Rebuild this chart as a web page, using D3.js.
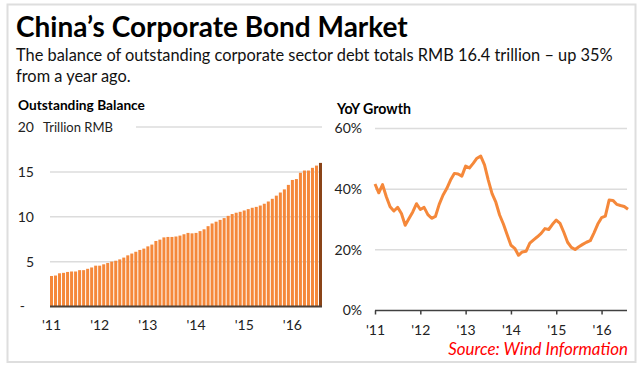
<!DOCTYPE html>
<html>
<head>
<meta charset="utf-8">
<script src="https://cdn.jsdelivr.net/npm/d3@7"></script>
<style>
  body { margin: 0; background: #fff; }
  svg { display: block; font-family: Lato, "Open Sans", sans-serif; }
</style>
</head>
<body>
<svg width="640" height="371"></svg>
<script>
// monthly, Jan 2011 .. Aug 2016
var balance = [
  3.4, 3.45, 3.7, 3.75, 3.85, 3.9, 3.9, 4.05, 4.05, 4.2, 4.35, 4.55,
  4.55, 4.7, 4.85, 5.0, 5.1, 5.25, 5.45, 5.7, 5.9, 6.1, 6.3, 6.45,
  6.7, 6.9, 7.3, 7.45, 7.7, 7.75, 7.75, 7.8, 7.9, 8.05, 8.2, 8.15,
  8.2, 8.4, 8.6, 8.95, 9.25, 9.45, 9.65, 9.85, 10.1, 10.3, 10.45, 10.55,
  10.7, 10.85, 11.0, 11.1, 11.25, 11.45, 11.7, 12.0, 12.35, 12.7, 13.05, 13.55,
  14.1, 14.2, 14.9, 15.15, 15.15, 15.45, 15.7, 16.0
];
var yoyGrowth = [
  41.7, 38.8, 41.5, 37.5, 34.2, 32.8, 34.0, 32.0, 28.1, 30.3, 32.5, 35.2,
  33.3, 34.0, 31.6, 30.4, 31.0, 35.0, 38.0, 40.2, 43.0, 45.2, 45.0, 44.3,
  47.6, 47.0, 48.5, 50.2, 50.9, 48.0, 43.0, 38.5, 35.7, 31.5, 28.5, 25.0,
  21.5, 20.5, 18.2, 19.3, 19.5, 22.2, 23.3, 24.3, 25.4, 27.0, 26.7, 28.4,
  29.8, 28.7, 25.8, 22.5, 20.8, 20.1, 21.0, 21.8, 22.5, 23.0, 25.6, 28.5,
  30.6, 31.1, 36.4, 36.3, 35.0, 34.6, 34.3, 33.4
];
var yearLabels = ["'11", "'12", "'13", "'14", "'15", "'16"];
var balanceTicks = [0, 5, 10, 15, 20];
var growthTicks = [0, 20, 40, 60];

var orange = "#f5883a";
var grid = "#dcdcdc";

var svg = d3.select("svg");

// frame
svg.append("rect")
  .attr("x", 7.5).attr("y", 4.5)
  .attr("width", 628).attr("height", 357.5)
  .attr("fill", "none")
  .attr("stroke", "#dedede")
  .attr("stroke-width", 2);

// shrink / grow a text so it spans the given width
function fitWidth(sel, w) {
  var cur = sel.node().getComputedTextLength();
  var fs = parseFloat(sel.attr("font-size"));
  sel.attr("font-size", fs * w / cur);
}

var title = svg.append("text")
  .attr("x", 16).attr("y", 37)
  .attr("font-size", 26)
  .attr("font-weight", "bold")
  .attr("fill", "#000")
  .text("China\u2019s Corporate Bond Market");
fitWidth(title, 392);

var sub1 = svg.append("text")
  .attr("x", 16).attr("y", 61)
  .attr("font-size", 16)
  .attr("fill", "#111")
  .text("The balance of outstanding corporate sector debt totals RMB 16.4 trillion \u2013 up 35%");
fitWidth(sub1, 597);
svg.append("text")
  .attr("x", 16).attr("y", 82)
  .attr("font-size", sub1.attr("font-size"))
  .attr("fill", "#111")
  .text("from a year ago.");

// ---------- left: outstanding balance ----------
var xb = d3.scaleBand()
  .domain(d3.range(balance.length))
  .range([50, 322])
  .paddingInner(0.25)
  .paddingOuter(0);

var yb = d3.scaleLinear().domain([0, 20]).range([306.5, 127]);

var lt = svg.append("text")
  .attr("x", 18).attr("y", 110)
  .attr("font-size", 14)
  .attr("font-weight", "bold")
  .text("Outstanding Balance");
fitWidth(lt, 127);

svg.append("g").selectAll("line")
  .data(balanceTicks.filter(d => d > 0))
  .join("line")
  .attr("x1", d => d == 20 ? 136 : 50)
  .attr("x2", 322)
  .attr("y1", d => yb(d)).attr("y2", d => yb(d))
  .attr("stroke", grid)
  .attr("stroke-width", 1.5);

svg.append("g").selectAll("rect")
  .data(balance)
  .join("rect")
  .attr("x", (d, i) => xb(i))
  .attr("width", xb.bandwidth())
  .attr("y", d => yb(d))
  .attr("height", d => yb(0) - yb(d))
  .attr("fill", (d, i) => i == balance.length - 1 ? "#8a4418" : orange);

svg.append("line")
  .attr("x1", 50).attr("x2", 322)
  .attr("y1", yb(0)).attr("y2", yb(0))
  .attr("stroke", "#4d4037")
  .attr("stroke-width", 2);

var yAxisL = svg.append("g")
  .attr("transform", "translate(34,0)")
  .call(d3.axisLeft(yb).tickValues(balanceTicks).tickSize(0).tickPadding(0)
    .tickFormat(d => d == 0 ? "-" : d));
yAxisL.select(".domain").remove();
yAxisL.selectAll("text")
  .attr("font-family", "Lato, 'Open Sans', sans-serif")
  .attr("font-size", 14)
  .attr("fill", "#222")
  .attr("dx", d => d == 0 ? -9 : 0);

svg.append("text")
  .attr("x", 43).attr("y", yb(20))
  .attr("dy", "0.35em")
  .attr("font-size", 13)
  .attr("fill", "#222")
  .text("Trillion RMB");

var xAxisL = svg.append("g")
  .attr("transform", "translate(0," + yb(0) + ")")
  .call(d3.axisBottom(xb).tickValues(d3.range(0, balance.length, 12)).tickSize(0).tickPadding(14)
    .tickFormat((d, i) => yearLabels[i]));
xAxisL.select(".domain").remove();
xAxisL.selectAll("text")
  .attr("font-family", "Lato, 'Open Sans', sans-serif")
  .attr("font-size", 14)
  .attr("fill", "#222");

// ---------- right: yoy growth ----------
var xg = d3.scaleLinear().domain([0, 67]).range([375, 628]);
var yg = d3.scaleLinear().domain([0, 60]).range([310.5, 128.5]);

var rt = svg.append("text")
  .attr("x", 337).attr("y", 114)
  .attr("font-size", 14)
  .attr("font-weight", "bold")
  .text("YoY Growth");
fitWidth(rt, 74);

svg.append("g").selectAll("line")
  .data(growthTicks.filter(d => d > 0))
  .join("line")
  .attr("x1", 375).attr("x2", 627)
  .attr("y1", d => yg(d)).attr("y2", d => yg(d))
  .attr("stroke", grid)
  .attr("stroke-width", 1.5);

var yAxisR = svg.append("g")
  .attr("transform", "translate(362,0)")
  .call(d3.axisLeft(yg).tickValues(growthTicks).tickSize(0).tickPadding(0)
    .tickFormat(d => d + "%"));
yAxisR.select(".domain").remove();
yAxisR.selectAll("text")
  .attr("font-family", "Lato, 'Open Sans', sans-serif")
  .attr("font-size", 14)
  .attr("fill", "#222");

var xAxisR = svg.append("g")
  .attr("transform", "translate(0," + yg(0) + ")")
  .call(d3.axisBottom(xg).tickValues(d3.range(0, 61, 12)).tickSize(4).tickPadding(11)
    .tickFormat((d, i) => yearLabels[i]));
xAxisR.select(".domain")
  .attr("d", "M375,0H627")
  .attr("stroke", "#404040")
  .attr("stroke-width", 1.5);
xAxisR.selectAll(".tick line")
  .attr("stroke", "#404040")
  .attr("stroke-width", 1.5);
xAxisR.selectAll("text")
  .attr("font-family", "Lato, 'Open Sans', sans-serif")
  .attr("font-size", 14)
  .attr("fill", "#222");

var line = d3.line()
  .x((d, i) => xg(i))
  .y(d => yg(d));

svg.append("path")
  .datum(yoyGrowth)
  .attr("d", line)
  .attr("fill", "none")
  .attr("stroke", orange)
  .attr("stroke-width", 3)
  .attr("stroke-linejoin", "round");

var src = svg.append("text")
  .attr("x", 628).attr("y", 355)
  .attr("text-anchor", "end")
  .attr("font-size", 15)
  .attr("font-style", "italic")
  .attr("fill", "#ff0000")
  .text("Source: Wind Information");
fitWidth(src, 180);
</script>
</body>
</html>
